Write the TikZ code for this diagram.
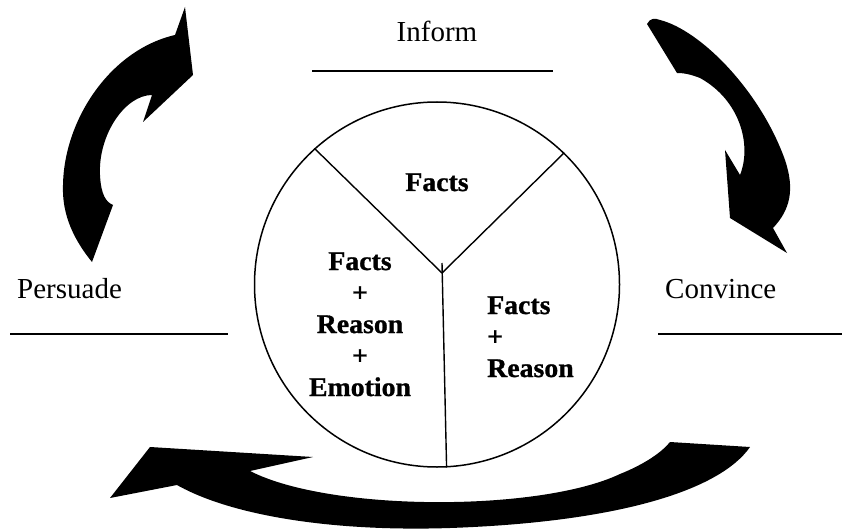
\documentclass[tikz,border=0pt]{standalone}
\usepackage{fontspec}
\setmainfont{Liberation Serif}
\newfontfamily\lblfont[FakeStretch=1.03,FakeBold=1]{Liberation Serif}
\tikzset{
  plainlbl/.style={font=\fontsize{29}{34}\selectfont, inner sep=0pt},
  boldlbl/.style={font=\lblfont\bfseries\fontsize{27}{31.5}\selectfont, inner sep=0pt},
  rule/.style={line width=2.2pt},
  divider/.style={line width=1.4pt},
  bigarrow/.style={fill=black, draw=none}
}
\begin{document}
\begin{tikzpicture}[x=1pt, y=-1pt]
\useasboundingbox (0,0) rectangle (842,529);

% labels and rules
\node[plainlbl, anchor=base] (inform) at (437,42) {Inform};
\node[plainlbl, anchor=base west] (persuade) at (17,298) {Persuade};
\node[plainlbl, anchor=base west] (convince) at (665,298) {Convince};
\coordinate (infL) at (312,71);   \coordinate (infR) at (553,71);
\coordinate (perL) at (10,334);   \coordinate (perR) at (228,334);
\coordinate (conL) at (658,334);  \coordinate (conR) at (842,334);
\draw[rule] (infL) -- (infR);
\draw[rule] (perL) -- (perR);
\draw[rule] (conL) -- (conR);

% circle with three sectors
\node[circle, draw, line width=1.5pt, minimum size=365pt, inner sep=0pt] (circ) at (437,284.5) {};
\coordinate (yc) at (442,273);
\coordinate (ytop) at (442,263);
\draw[divider] (circ.132) -- (yc) -- (circ.46);
\draw[divider] (ytop) -- (circ.-87.5);

\node[boldlbl, anchor=base] (facts) at (437,191) {Facts};
\node[boldlbl, anchor=base, align=center] (fre) at (360,396) {Facts\\+\\Reason\\+\\Emotion};
\node[boldlbl, anchor=base west, align=left] (fr) at (487,377) {Facts\\+\\Reason};

% left arrow (Persuade -> Inform)
\fill[bigarrow] (92,262) .. controls (70,235) and (62,210) .. (63,185)
  .. controls (64,120) and (110,50) .. (175,35)
  -- (185,7) -- (193,75) -- (143,122) -- (152,95)
  .. controls (125,95) and (98,135) .. (100,175)
  .. controls (101,195) and (106,202) .. (113,205) -- cycle;

% right arrow (Inform -> Convince)
\fill[bigarrow] (647,24) .. controls (650,18) and (655,18) .. (660,20)
  .. controls (700,30) and (760,90) .. (785,160)
  .. controls (795,190) and (790,210) .. (773,228)
  -- (787,253) -- (730,218) -- (725,150) -- (740,175)
  .. controls (752,145) and (740,100) .. (700,78)
  .. controls (690,74) and (683,73) .. (677,73) -- cycle;

% bottom arrow (Convince -> Persuade)
\fill[bigarrow] (110,498) -- (150,447) -- (313,457) -- (250,471)
  .. controls (330,512) and (540,512) .. (620,474)
  .. controls (645,464) and (662,452) .. (670,442)
  -- (750,447)
  .. controls (720,490) and (620,522) .. (450,528)
  .. controls (330,532) and (230,515) .. (177,485) -- cycle;
\end{tikzpicture}
\end{document}
